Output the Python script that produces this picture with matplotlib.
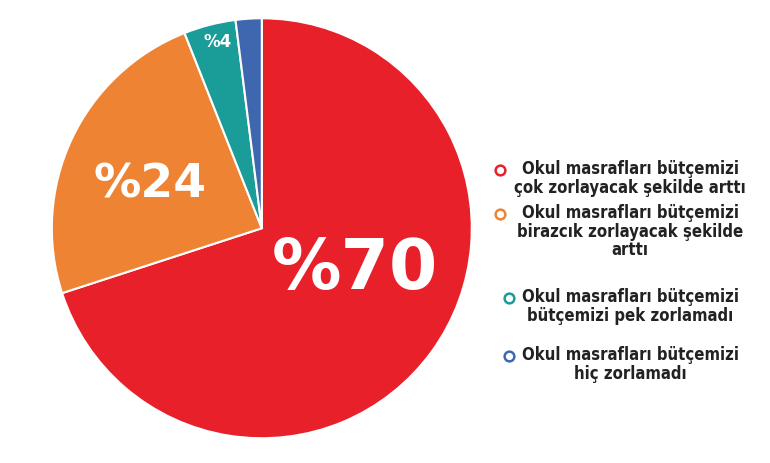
import matplotlib
matplotlib.use("Agg")
import matplotlib.pyplot as plt

values = [70, 24, 4, 2]
labels = ["%70", "%24", "%4", ""]
colors = ["#E8202A", "#EE8433", "#1A9C98", "#3F67B0"]
legend_texts = [
    "Okul masrafları bütçemizi\nçok zorlayacak şekilde arttı",
    "Okul masrafları bütçemizi\nbirazcık zorlayacak şekilde\narttı",
    "Okul masrafları bütçemizi\nbütçemizi pek zorlamadı",
    "Okul masrafları bütçemizi\nhiç zorlamadı",
]

fig = plt.figure(figsize=(7.7, 4.63), dpi=100)
ax = fig.add_axes([0.34 - 0.2727, 0.507 - 0.4536, 0.5454, 0.9072])
ax.pie(values, colors=colors, startangle=90, counterclock=False,
       wedgeprops=dict(edgecolor="white", linewidth=1.5))
ax.set_aspect("equal")
ax.set_xlim(-1, 1); ax.set_ylim(-1, 1)
ax.axis("off")

fig.text(355/770, 1-270/463, labels[0], color="white", fontsize=50, fontweight="bold",
         ha="center", va="center")
fig.text(150/770, 1-185/463, labels[1], color="white", fontsize=34, fontweight="bold",
         ha="center", va="center")
fig.text(218/770, 1-42/463, labels[2], color="white", fontsize=12, fontweight="bold",
         ha="center", va="center")

ys = [170, 214, 298, 356]
xs = [500, 500, 509, 509]
for y, xm, c, t in zip(ys, xs, colors, legend_texts):
    fig.lines.append(plt.Line2D([xm/770], [1-y/463], marker="o", markersize=7,
                                markerfacecolor="white", markeredgecolor=c,
                                markeredgewidth=1.8, transform=fig.transFigure))
    fig.text(630/770, 1-(y-10)/463, t, color="#222222", fontsize=12, fontweight="bold",
             family="DejaVu Sans", fontstretch="condensed",
             ha="center", va="top", multialignment="center", linespacing=1.05)

fig.savefig("out.png", dpi=100)
